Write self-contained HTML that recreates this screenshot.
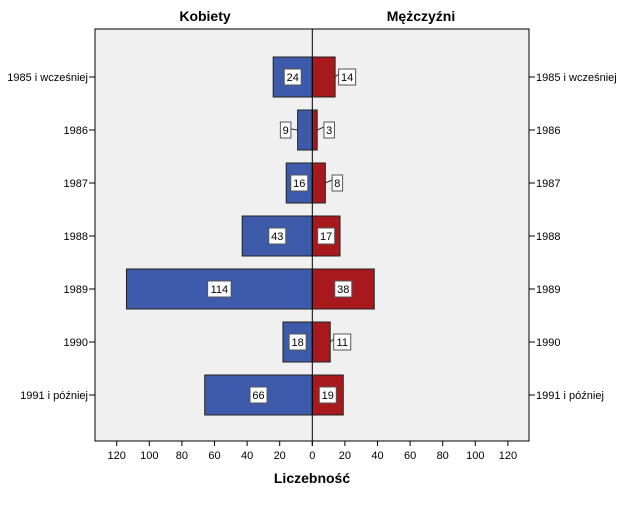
<!DOCTYPE html>
<html><head><meta charset="utf-8"><style>
body{margin:0;background:#fff;}
svg text{font-family:"Liberation Sans",Arial,sans-serif;}
</style></head><body>
<svg id="chart" width="625" height="500" viewBox="0 0 625 500">
<rect width="625" height="500" fill="#fff"/>
<rect x="95" y="29" width="434" height="412" fill="#f0f0f0" stroke="#000" stroke-width="1"/>
<text x="205" y="21" text-anchor="middle" font-size="14" font-weight="bold">Kobiety</text>
<text x="421" y="21" text-anchor="middle" font-size="14" font-weight="bold">Mężczyźni</text>
<text x="312" y="483" text-anchor="middle" font-size="14" font-weight="bold">Liczebność</text>
<g id="marks"></g>
</svg>
<script>
const categories=["1985 i wcześniej","1986","1987","1988","1989","1990","1991 i później"];
const women=[24,9,16,43,114,18,66];
const men=[14,3,8,17,38,11,19];
const tickValues=[120,100,80,60,40,20,0,20,40,60,80,100,120];
const tickSigned=[-120,-100,-80,-60,-40,-20,0,20,40,60,80,100,120];
const NS="http://www.w3.org/2000/svg";
const g=document.getElementById('marks');
const cx=312.3, k=1.63, rowTop=77, rowStep=53, barH=40;
const xs=v=>cx+v*k;
const ys=i=>rowTop+i*rowStep;
function mk(t,a){const e=document.createElementNS(NS,t);for(const n in a)e.setAttribute(n,a[n]);g.appendChild(e);return e;}
tickSigned.forEach((v,i)=>{
  const l=mk('line',{x1:xs(v),x2:xs(v),y1:441,y2:446,stroke:'#000'});
  
  
  const t=mk('text',{x:xs(v),y:459,'text-anchor':'middle','font-size':11});
  t.textContent=tickValues[i];
  
  
});
function bar(v,i,side,color){
  const w=v*k, y=ys(i);
  const x=side<0?cx-w:cx;
  const r=mk('rect',{x:x,y:y-barH/2,width:w,height:barH,fill:color,stroke:'#222','stroke-width':1});
  
  
  const s=String(v), bw=s.length*6.5+4, bh=16;
  let c;
  const inside=w/2>=12;
  if(inside) c=cx+side*w/2; else c=cx+side*(w+12);
  if(!inside){
    const ln=mk('line',{x1:cx+side*w,y1:y,x2:c-side*bw/2,y2:y+(side<0?-1:-3),stroke:'#333'});
    
    
  }
  const b=mk('rect',{x:c-bw/2,y:y-bh/2,width:bw,height:bh,fill:'#fff',stroke:'#555'});
  
  
  const t=mk('text',{x:c,y:y+4,'text-anchor':'middle','font-size':11});
  t.textContent=s;
  
  
}
categories.forEach((c,i)=>{
  bar(women[i],i,-1,'#3d5aab');
  bar(men[i],i,1,'#a8191e');
  const y=ys(i);
  const l1=mk('line',{x1:89,x2:95,y1:y,y2:y,stroke:'#000'});
  
  
  const l2=mk('line',{x1:529,x2:535,y1:y,y2:y,stroke:'#000'});
  
  
  const t1=mk('text',{x:88,y:y+4,'text-anchor':'end','font-size':11});
  t1.textContent=c;
  
  
  const t2=mk('text',{x:536,y:y+4,'font-size':11});
  t2.textContent=c;
  
  
});
const ax=mk('line',{x1:cx,x2:cx,y1:29,y2:446,stroke:'#000'});


</script>
</body></html>
